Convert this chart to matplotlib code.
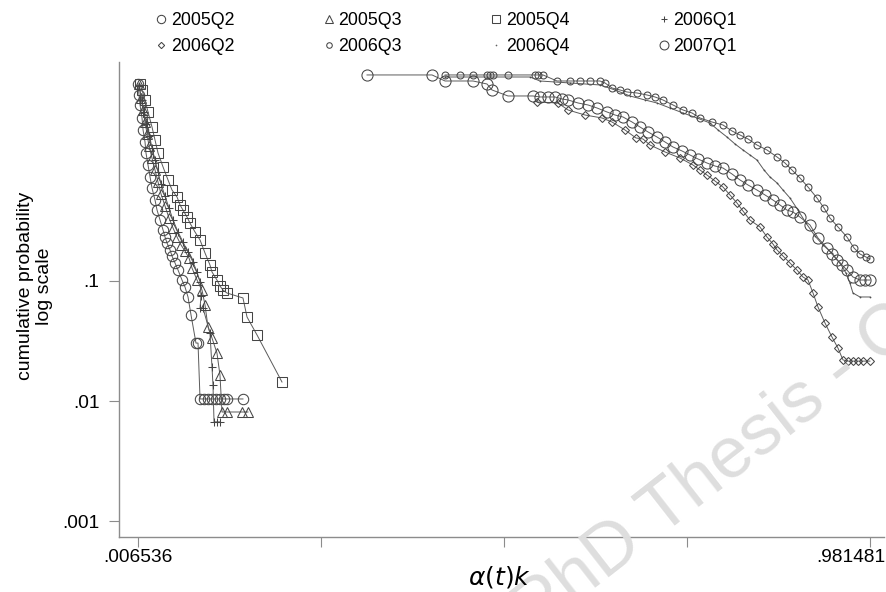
import numpy as np
import matplotlib
matplotlib.use("Agg")
import matplotlib.pyplot as plt
from matplotlib.ticker import FixedLocator, NullLocator
from matplotlib.transforms import ScaledTranslation

plt.rcParams['font.family'] = ['Liberation Sans', 'DejaVu Sans']

# cumulative distributions per quarter: alpha(t)k vs cumulative probability
x_2005q2 = [0.0072, 0.0085, 0.0099, 0.0125, 0.0139, 0.0165, 0.0178, 0.0205, 0.0232, 0.0258,
            0.0298, 0.0325, 0.0365, 0.0405, 0.0431, 0.0458, 0.0498, 0.0524, 0.0564, 0.0604,
            0.0657, 0.0697, 0.0737, 0.0777, 0.0843, 0.0870, 0.0897, 0.0950, 0.1003, 0.1056,
            0.1109, 0.1162, 0.1215, 0.1255, 0.1468]
y_2005q2 = [4.38, 3.548, 2.929, 2.282, 1.813, 1.440, 1.166, 0.926, 0.736, 0.596,
            0.473, 0.390, 0.322, 0.266, 0.2326, 0.2073, 0.1813, 0.1616, 0.1413, 0.1235,
            0.1019, 0.0891, 0.0736, 0.0521, 0.0304, 0.0304, 0.0104, 0.0104, 0.0104, 0.0104,
            0.0104, 0.0104, 0.0104, 0.0104, 0.0104]

x_2005q3 = [0.0085, 0.0112, 0.0139, 0.0165, 0.0192, 0.0218, 0.0258, 0.0298, 0.0338, 0.0378,
            0.0431, 0.0484, 0.0538, 0.0591, 0.0644, 0.0697, 0.0750, 0.0790, 0.0857, 0.0923,
            0.0963, 0.1003, 0.1056, 0.1122, 0.1162, 0.1189, 0.1255, 0.1455, 0.1535]
y_2005q3 = [4.38, 3.350, 2.661, 2.113, 1.679, 1.334, 1.059, 0.841, 0.668, 0.531,
            0.422, 0.335, 0.276, 0.2326, 0.1995, 0.1778, 0.1555, 0.1283, 0.1019, 0.0841,
            0.0631, 0.0414, 0.0335, 0.0251, 0.0165, 0.0081, 0.0081, 0.0081, 0.0081]

x_2005q4 = [0.0099, 0.0125, 0.0165, 0.0205, 0.0258, 0.0298, 0.0338, 0.0405, 0.0471, 0.0524,
            0.0591, 0.0631, 0.0670, 0.0724, 0.0763, 0.0830, 0.0897, 0.0963, 0.1029, 0.1056,
            0.1122, 0.1162, 0.1202, 0.1255, 0.1468, 0.1522, 0.1655, 0.1987]
y_2005q4 = [4.38, 3.906, 3.224, 2.561, 1.920, 1.496, 1.166, 0.891, 0.695, 0.573,
            0.501, 0.430, 0.390, 0.341, 0.304, 0.256, 0.2196, 0.1711, 0.1359, 0.1189,
            0.1019, 0.0908, 0.0841, 0.0794, 0.0722, 0.0501, 0.0355, 0.0144]

x_2006q1 = [0.0085, 0.0125, 0.0152, 0.0178, 0.0218, 0.0258, 0.0298, 0.0338, 0.0378, 0.0431,
            0.0484, 0.0538, 0.0604, 0.0670, 0.0737, 0.0803, 0.0857, 0.0897, 0.0910, 0.0897,
            0.0936, 0.1029, 0.1056, 0.1069, 0.1083, 0.1122, 0.1162]
y_2006q1 = [4.217, 3.224, 2.561, 2.034, 1.616, 1.283, 1.019, 0.810, 0.643, 0.511,
            0.406, 0.322, 0.256, 0.2113, 0.1744, 0.1440, 0.1189, 0.0981, 0.0750, 0.0596,
            0.0596, 0.0369, 0.0192, 0.0136, 0.0067, 0.0067, 0.0067]

x_2006q2 = [0.5379, 0.5658, 0.5792, 0.6018, 0.6244, 0.6377, 0.6550, 0.6696, 0.6789, 0.6882,
            0.7082, 0.7281, 0.7454, 0.7547, 0.7640, 0.7747, 0.7853, 0.7946, 0.8039, 0.8119,
            0.8212, 0.8345, 0.8438, 0.8518, 0.8572, 0.8651, 0.8744, 0.8837, 0.8917, 0.8984,
            0.9051, 0.9117, 0.9210, 0.9303, 0.9383, 0.9449, 0.9516, 0.9582, 0.9649, 0.9715,
            0.9808]
y_2006q2 = [3.102, 3.043, 2.661, 2.416, 2.282, 2.113, 1.813, 1.555, 1.526, 1.359,
            1.189, 1.059, 0.926, 0.841, 0.764, 0.681, 0.607, 0.521, 0.447, 0.383,
            0.322, 0.282, 0.2326, 0.2034, 0.1813, 0.1616, 0.1413, 0.1235, 0.1080, 0.1019,
            0.0794, 0.0607, 0.0447, 0.0341, 0.0276, 0.0220, 0.0215, 0.0215, 0.0215, 0.0215,
            0.0215]

x_2006q3 = [0.4156, 0.4355, 0.4528, 0.4714, 0.4754, 0.4794, 0.4993, 0.5352, 0.5392, 0.5459,
            0.5645, 0.5818, 0.5951, 0.6084, 0.6217, 0.6284, 0.6377, 0.6483, 0.6576, 0.6709,
            0.6842, 0.6949, 0.7055, 0.7188, 0.7321, 0.7441, 0.7547, 0.7707, 0.7853, 0.7973,
            0.8079, 0.8186, 0.8305, 0.8438, 0.8572, 0.8678, 0.8771, 0.8877, 0.8984, 0.9103,
            0.9197, 0.9276, 0.9383, 0.9502, 0.9596, 0.9675, 0.9755, 0.9808]
y_2006q3 = [5.21, 5.21, 5.21, 5.21, 5.21, 5.21, 5.21, 5.21, 5.21, 5.21,
            4.64, 4.64, 4.64, 4.64, 4.64, 4.467, 4.058, 3.906, 3.758, 3.687,
            3.548, 3.415, 3.224, 2.929, 2.661, 2.512, 2.282, 2.113, 1.995, 1.778,
            1.647, 1.526, 1.359, 1.235, 1.080, 0.962, 0.841, 0.722, 0.607, 0.492,
            0.406, 0.335, 0.282, 0.2326, 0.1884, 0.1679, 0.1585, 0.1526]

x_2006q4 = [0.4156, 0.4714, 0.5286, 0.5419, 0.5818, 0.6217, 0.6417, 0.6616, 0.6816, 0.6975,
            0.7148, 0.7321, 0.7507, 0.7680, 0.7787, 0.7906, 0.8013, 0.8119, 0.8212, 0.8305,
            0.8399, 0.8478, 0.8572, 0.8651, 0.8744, 0.8851, 0.8957, 0.9077, 0.9183, 0.9303,
            0.9409, 0.9489, 0.9542, 0.9582, 0.9675, 0.9808]
y_2006q4 = [5.01, 5.01, 5.01, 4.64, 4.467, 4.30, 3.906, 3.481, 3.224, 3.043,
            2.765, 2.512, 2.282, 2.074, 1.813, 1.585, 1.386, 1.235, 1.122, 1.019,
            0.841, 0.736, 0.656, 0.573, 0.492, 0.390, 0.304, 0.237, 0.1995, 0.1711,
            0.1413, 0.1166, 0.0962, 0.0794, 0.0736, 0.0736]

x_2007q1 = [0.3118, 0.3983, 0.4156, 0.4528, 0.4714, 0.4781, 0.4993, 0.5326, 0.5419, 0.5526,
            0.5619, 0.5712, 0.5792, 0.5925, 0.6058, 0.6177, 0.6310, 0.6417, 0.6523, 0.6643,
            0.6749, 0.6856, 0.6975, 0.7082, 0.7188, 0.7308, 0.7414, 0.7521, 0.7640, 0.7747,
            0.7853, 0.7973, 0.8079, 0.8186, 0.8305, 0.8412, 0.8518, 0.8611, 0.8704, 0.8784,
            0.8877, 0.9010, 0.9117, 0.9236, 0.9303, 0.9369, 0.9436, 0.9502, 0.9582, 0.9675,
            0.9742, 0.9808]
y_2007q1 = [5.21, 5.21, 4.64, 4.64, 4.38, 3.906, 3.481, 3.481, 3.415, 3.415,
            3.415, 3.286, 3.224, 3.043, 2.929, 2.765, 2.561, 2.416, 2.326, 2.113,
            1.920, 1.745, 1.585, 1.440, 1.308, 1.212, 1.122, 1.039, 0.962, 0.908,
            0.874, 0.779, 0.695, 0.631, 0.573, 0.521, 0.473, 0.430, 0.390, 0.376,
            0.341, 0.293, 0.2282, 0.1884, 0.1679, 0.1496, 0.1359, 0.1235, 0.1080, 0.1019,
            0.1019, 0.1019]

quarters = ['2005Q2', '2005Q3', '2005Q4', '2006Q1', '2006Q2', '2006Q3', '2006Q4', '2007Q1']
xs = [x_2005q2, x_2005q3, x_2005q4, x_2006q1, x_2006q2, x_2006q3, x_2006q4, x_2007q1]
ys = [y_2005q2, y_2005q3, y_2005q4, y_2006q1, y_2006q2, y_2006q3, y_2006q4, y_2007q1]

x_lo, x_hi = 0.006536, 0.981481

markers = {'2005Q2': ('o', 7.5), '2005Q3': ('^', 7.0), '2005Q4': ('s', 6.5),
           '2006Q1': ('+', 6.0), '2006Q2': ('D', 4.0), '2006Q3': ('o', 5.0),
           '2006Q4': ('.', 1.0), '2007Q1': ('o', 8.0)}

fig = plt.figure(figsize=(8.87, 5.92), dpi=100)
ax = fig.add_axes([119/887, 55/592, 765/887, 475/592])

# faint diagonal watermark behind the data
fig.text(535/887, 1 - 635/592, 'PhD Thesis - C', rotation=38, rotation_mode='anchor',
         ha='left', va='baseline', fontsize=52, color='#dedede', zorder=0)
ax.set_facecolor('none')

handles = {}
for q, x, y in zip(quarters, xs, ys):
    m, s = markers[q]
    h, = ax.plot(x, y, color='#5a5a5a', lw=0.7, marker=m, ms=s,
                 mfc='none', mec='#454545', mew=0.75, label=q, zorder=3)
    handles[q] = h

ax.set_yscale('log')
ax.set_xlim(-0.0181, 0.9995)
ax.set_ylim(7.36e-4, 6.68)

ax.xaxis.set_major_locator(FixedLocator(np.linspace(x_lo, x_hi, 5)))
ax.set_xticklabels(['.006536', '', '', '', '.981481'])
ax.yaxis.set_major_locator(FixedLocator([0.001, 0.01, 0.1]))
ax.yaxis.set_minor_locator(NullLocator())
ax.set_yticklabels(['.001', '.01', '.1'])

for side in ['top', 'right']:
    ax.spines[side].set_visible(False)
for side in ['left', 'bottom']:
    ax.spines[side].set_color('#8c8c8c')
    ax.spines[side].set_linewidth(1.0)
ax.tick_params(axis='x', length=7.5, width=0.8, color='#8c8c8c', pad=1, labelsize=13.8)
ax.tick_params(axis='y', length=7.5, width=0.8, color='#8c8c8c', pad=6.5, labelsize=13.8)

# keep the last x label inside the figure
last = ax.get_xticklabels()[-1]
last.set_transform(last.get_transform() + ScaledTranslation(-0.2, 0, fig.dpi_scale_trans))

fig.text(500/887, 1 - 577/592, r'$\it{\alpha(t)k}$', ha='center', va='center', fontsize=18,
         math_fontfamily='dejavusans')
fig.text(35/887, 1 - 286/592, 'cumulative probability\nlog scale', rotation=90,
         ha='center', va='center', multialignment='center', fontsize=14, linespacing=1.15)

# legend: 4 columns, filled column by column
order = ['2005Q2', '2006Q2', '2005Q3', '2006Q3', '2005Q4', '2006Q4', '2006Q1', '2007Q1']
leg = fig.legend([handles[q] for q in order], order, loc='upper left',
                 bbox_to_anchor=(156/887, 1 - 12/592), ncol=4, frameon=False,
                 fontsize=12.8, handlelength=0.6, handletextpad=0.25, columnspacing=5.0,
                 labelspacing=0.5, borderpad=0, borderaxespad=0, markerscale=0.8)
for lh in leg.get_lines():
    lh.set_linestyle('none')

fig.savefig('out.png', dpi=100)
